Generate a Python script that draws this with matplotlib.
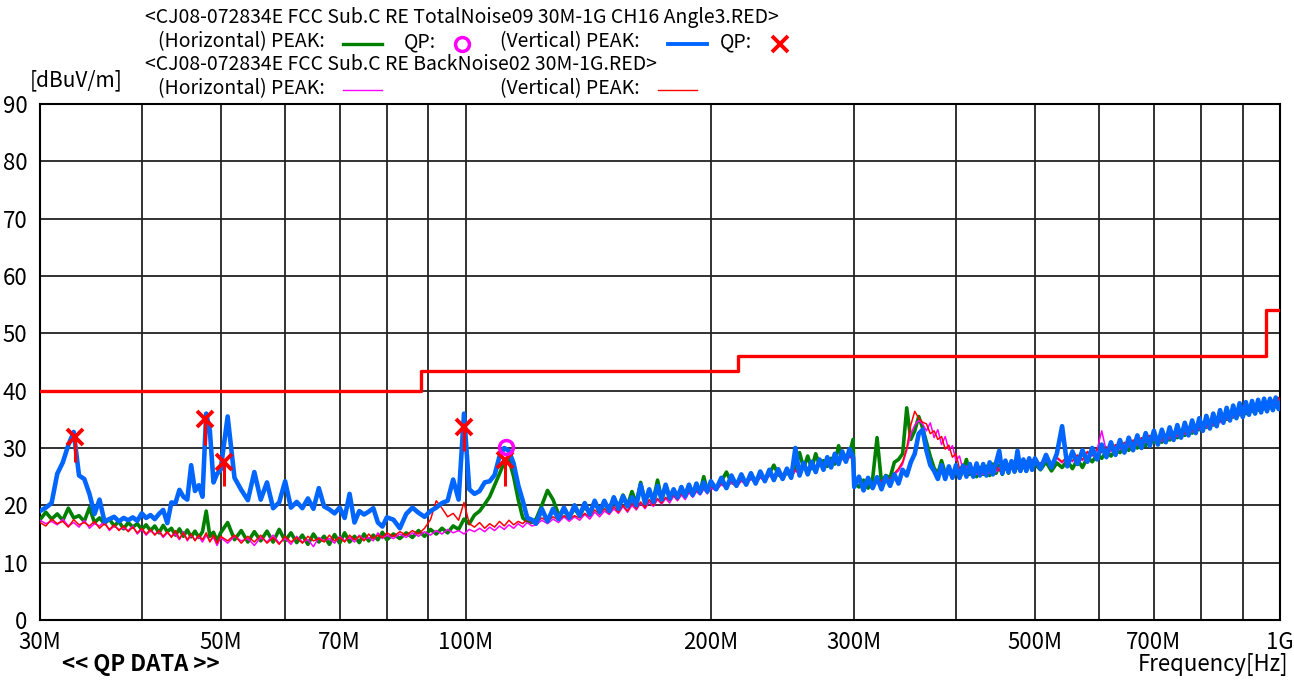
import matplotlib
matplotlib.use('Agg')
import matplotlib.pyplot as plt
from matplotlib.lines import Line2D
from matplotlib.ticker import FixedLocator, NullLocator

# sweep frequencies [MHz]
freq_mhz = [
    # 30-50
    30, 30.5, 31, 31.5, 32, 32.5, 33, 33.5, 34, 34.5,
    35, 35.5, 36, 36.5, 37, 37.5, 38, 38.5, 39, 39.5,
    40, 40.5, 41, 41.5, 42, 42.5, 43, 43.5, 44, 44.5,
    45, 45.5, 46, 46.5, 47, 47.5, 48, 48.5, 49, 49.5,
    50,
    # 51-80
    51, 52, 53, 54, 55, 56, 57, 58, 59, 60,
    61, 62, 63, 64, 65, 66, 67, 68, 69, 70,
    71, 72, 73, 74, 75, 76, 77, 78, 79, 80,
    # 81.5-120.5
    81.5, 83, 84.5, 86, 87.5, 89, 90.5, 92, 93.5, 95,
    96.5, 98, 99.5, 101, 102.5, 104, 105.5, 107, 108.5, 110,
    111.5, 113, 114.5, 116, 117.5, 119, 120.5,
    # 122-200
    122, 124, 126, 128, 130, 132, 134, 136, 138, 140,
    142, 144, 146, 148, 150, 152, 154, 156, 158, 160,
    162, 164, 166, 168, 170, 172, 174, 176, 178, 180,
    182, 184, 186, 188, 190, 192, 194, 196, 198, 200,
    # 203-299
    203, 206, 209, 212, 215, 218, 221, 224, 227, 230,
    233, 236, 239, 242, 245, 248, 251, 254, 257, 260,
    263, 266, 269, 272, 275, 278, 281, 284, 287, 290,
    293, 296, 299,
    # 300-500
    300, 304, 308, 312, 316, 320, 324, 328, 332, 336,
    340, 344, 348, 352, 356, 360, 364, 368, 372, 376,
    380, 384, 388, 392, 396, 400, 404, 408, 412, 416,
    420, 424, 428, 432, 436, 440, 444, 448, 452, 456,
    460, 464, 468, 472, 476, 480, 484, 488, 492, 496,
    500,
    # 508-1000
    508, 516, 524, 532, 540, 548, 556, 564, 572, 580,
    588, 596, 604, 612, 620, 628, 636, 644, 652, 660,
    668, 676, 684, 692, 700, 708, 716, 724, 732, 740,
    748, 756, 764, 772, 780, 788, 796, 804, 812, 820,
    828, 836, 844, 852, 860, 868, 876, 884, 892, 900,
    908, 916, 924, 932, 940, 948, 956, 964, 972, 980,
    988, 996, 1000,
]

# TotalNoise09 Horizontal PEAK [dBuV/m]
h_peak = [
    17.5, 18.8, 17.6, 18.5, 17.4, 19.5, 17.8, 18.2, 17.2, 19.6,
    17.0, 17.8, 16.8, 17.6, 16.4, 17.2, 15.9, 17.0, 16.2, 16.8,
    15.8, 16.6, 15.6, 16.4, 15.2, 16.5, 15.4, 16.0, 14.8, 15.9,
    14.6, 15.7, 14.5, 15.5, 14.4, 15.4, 19.0, 14.6, 15.3, 13.8,
    15.2,
    17.0, 14.0, 15.6, 13.6, 15.4, 13.8, 15.5, 13.6, 15.8, 13.8,
    15.2, 13.5, 14.8, 13.2, 15.0, 13.6, 14.6, 13.2, 14.9, 13.4,
    15.2, 13.6, 14.6, 13.5, 15.0, 13.8, 14.8, 14.0, 15.3, 14.0,
    15.0, 14.2, 15.2, 14.4, 15.6, 14.6, 15.8, 15.0, 16.0, 15.2,
    16.4, 15.8, 17.6, 16.8, 18.3, 19.0, 20.2, 21.5, 23.5, 25.5,
    27.5, 28.0, 25.0, 21.0, 17.8, 17.2, 17.0,
    17.6, 20.0, 22.6, 21.0, 18.4, 19.0, 18.0, 19.4, 18.2, 19.8,
    18.6, 20.6, 19.0, 20.2, 19.2, 21.4, 19.6, 21.8, 20.0, 22.4,
    20.4, 24.0, 20.6, 22.4, 21.0, 24.4, 21.2, 23.4, 21.4, 22.2,
    21.6, 22.6, 21.8, 23.6, 22.2, 23.0, 22.4, 25.0, 22.6, 23.5,
    23.0, 24.2, 25.8, 24.0, 23.6, 24.8, 23.8, 25.0, 24.0, 25.2,
    24.4, 25.6, 27.0, 25.4, 24.8, 25.8, 25.0, 26.6, 29.2, 26.5,
    28.6, 26.4, 29.0, 27.0, 27.8, 26.8, 28.2, 27.2, 30.4, 28.2,
    28.0, 29.0, 31.5,
    24.0, 23.2, 24.4, 23.0, 24.6, 31.8, 24.0, 25.2, 24.8, 27.5,
    28.0, 29.0, 37.0, 31.5, 33.0, 35.5, 33.5, 31.0, 28.5, 26.5,
    25.5, 27.8, 25.6, 26.0, 25.0, 26.2, 24.8, 26.0, 28.0, 25.4,
    26.4, 25.0, 26.6, 25.4, 26.8, 25.2, 27.2, 25.6, 27.0, 25.4,
    27.2, 25.6, 27.4, 25.8, 27.0, 26.0, 27.2, 26.0, 27.6, 26.4,
    27.2,
    26.2, 27.6, 26.0, 27.4, 26.6, 27.8, 26.4, 28.0, 26.6, 28.4,
    27.6, 28.8, 28.2, 29.4, 28.6, 29.6, 29.2, 30.2, 29.6, 30.6,
    30.0, 31.0, 30.4, 31.4, 31.0, 31.4, 31.0, 31.8, 31.4, 32.2,
    31.8, 32.6, 32.2, 33.0, 32.6, 33.6, 33.2, 34.0, 33.6, 34.4,
    34.0, 34.8, 34.8, 35.4, 35.0, 35.8, 35.4, 36.2, 35.8, 36.4,
    36.0, 36.8, 36.4, 37.0, 36.6, 37.2, 36.8, 37.4, 37.0, 37.6,
    37.2, 37.8, 37.4,
]

# TotalNoise09 Vertical PEAK [dBuV/m]
v_peak = [
    19.0, 19.6, 20.4, 25.5, 27.5, 30.5, 32.8, 25.2, 24.6, 22.0,
    18.5, 21.0, 17.2, 17.6, 18.0, 17.2, 17.8, 17.4, 17.9, 17.3,
    18.6, 17.8, 18.3, 17.6, 18.5, 19.2, 16.9, 20.5, 20.4, 22.7,
    21.5, 21.0, 27.0, 22.5, 23.5, 21.5, 36.0, 33.0, 24.0, 25.5,
    26.2,
    35.5, 24.8, 22.7, 20.9, 25.8, 21.0, 24.0, 19.5, 20.5, 24.2,
    19.6, 20.6, 19.5, 21.2, 19.4, 23.0, 19.8, 19.3, 18.6, 19.6,
    17.8, 22.0, 17.0, 19.0, 18.4, 18.9, 19.5, 17.0, 16.3, 17.9,
    17.5, 16.0, 18.5, 19.6, 18.7, 18.0, 19.0, 19.6, 20.4, 20.8,
    24.5, 21.0, 36.0, 22.8, 22.0, 22.5, 24.0, 24.2, 25.3, 28.5,
    30.0, 29.5, 27.3, 23.5, 20.8, 17.8, 17.5,
    16.8, 19.4, 17.2, 19.4, 17.6, 19.6, 17.8, 20.0, 18.2, 20.4,
    18.4, 20.8, 18.8, 20.8, 19.0, 21.4, 19.4, 21.6, 19.8, 21.4,
    20.0, 23.6, 20.4, 22.8, 20.6, 23.4, 21.0, 23.6, 21.2, 22.8,
    21.4, 23.2, 21.6, 23.6, 21.8, 23.8, 22.2, 24.0, 22.4, 24.2,
    22.8, 24.8, 23.0, 25.2, 23.4, 25.4, 23.6, 25.6, 23.8, 25.9,
    24.2, 26.2, 24.4, 26.3, 24.6, 26.4, 24.8, 30.0, 25.2, 27.4,
    25.4, 27.6, 25.8, 28.0, 26.2, 28.4, 26.6, 29.0, 27.2, 29.4,
    27.6, 29.8, 28.4,
    23.2, 25.0, 22.6, 24.8, 23.0, 24.9, 22.8, 25.0, 23.4, 25.4,
    23.8, 26.2, 25.2, 27.5, 29.0, 32.5, 33.2, 29.5, 27.0, 26.0,
    24.6, 27.0, 24.6, 26.8, 24.8, 27.0, 24.8, 26.9, 25.0, 27.2,
    25.0, 27.3, 25.2, 27.2, 25.2, 27.5, 25.4, 27.4, 29.5, 25.6,
    27.8, 25.8, 27.7, 25.9, 29.5, 26.0, 28.0, 26.0, 28.2, 26.2,
    28.2,
    26.4, 28.8, 26.6, 29.0, 33.8, 26.8, 29.4, 27.2, 29.6, 27.6,
    30.0, 28.0, 30.6, 28.4, 31.0, 28.8, 31.4, 29.2, 31.8, 29.6,
    32.2, 30.0, 32.6, 30.4, 33.0, 30.6, 33.2, 31.0, 33.6, 31.4,
    34.0, 31.8, 34.4, 32.2, 34.8, 32.6, 35.2, 33.0, 35.6, 33.4,
    36.0, 33.8, 36.6, 34.4, 37.0, 34.8, 37.4, 35.2, 37.8, 35.4,
    38.0, 35.8, 38.2, 36.0, 38.4, 36.2, 38.6, 36.4, 38.6, 36.6,
    38.8, 36.8, 37.8,
]

# BackNoise02 Horizontal PEAK [dBuV/m]
h_back = [
    17.4, 16.8, 17.2, 16.6, 17.6, 16.4, 17.0, 16.2, 17.4, 16.0,
    16.8, 16.4, 17.2, 15.6, 16.4, 15.8, 16.0, 15.6, 16.4, 15.0,
    15.8, 14.8, 15.6, 15.0, 15.4, 14.4, 15.2, 14.6, 15.0, 14.0,
    15.4, 13.8, 14.8, 14.0, 14.6, 13.6, 14.8, 13.8, 14.4, 13.0,
    14.4,
    13.4, 14.6, 13.8, 14.2, 13.0, 14.4, 13.6, 14.8, 13.4, 14.2,
    13.2, 14.6, 13.6, 14.0, 12.8, 14.4, 13.8, 14.2, 13.4, 14.6,
    13.8, 14.4, 13.6, 14.8, 14.0, 14.4, 13.8, 15.2, 14.2, 14.8,
    14.2, 15.0, 14.4, 15.2, 14.6, 15.4, 14.8, 15.6, 15.0, 15.8,
    15.2, 15.6, 15.0, 15.8, 15.4, 16.0, 15.4, 16.2, 15.6, 16.4,
    15.8, 16.6, 16.0, 16.8, 16.2, 17.0, 16.4,
    16.6, 17.4, 16.8, 17.6, 17.0, 18.0, 17.2, 18.0, 17.4, 18.4,
    17.6, 18.8, 18.0, 19.0, 18.4, 19.4, 18.6, 19.8, 18.8, 20.0,
    19.2, 20.4, 19.4, 20.6, 19.8, 21.0, 20.2, 21.2, 20.4, 21.6,
    20.8, 21.8, 21.0, 22.2, 21.4, 22.4, 21.8, 22.8, 22.0, 23.0,
    22.6, 23.6, 23.0, 24.0, 23.2, 24.2, 23.6, 24.6, 23.8, 24.8,
    24.2, 25.2, 24.4, 25.4, 24.8, 25.8, 25.0, 26.0, 25.4, 26.4,
    25.8, 26.8, 26.0, 27.0, 26.4, 27.4, 26.8, 27.8, 27.2, 28.2,
    27.6, 28.4, 28.0,
    23.6, 24.2, 23.4, 24.4, 23.6, 24.6, 24.0, 24.8, 24.4, 25.4,
    26.0, 27.2, 29.6, 32.4, 34.0, 34.8, 34.2, 33.0, 34.4, 31.8,
    33.2, 30.6, 32.0, 29.6, 30.4, 27.8, 28.6, 26.2, 26.8, 25.6,
    26.2, 25.4, 26.0, 25.4, 26.2, 25.6, 26.4, 25.8, 26.6, 26.0,
    26.8, 26.2, 27.0, 26.4, 27.2, 26.6, 27.4, 26.8, 27.6, 27.0,
    27.8,
    27.2, 27.8, 27.0, 28.2, 27.4, 28.4, 27.6, 28.6, 27.8, 29.2,
    28.6, 29.6, 33.0, 29.4, 29.4, 30.4, 29.8, 30.8, 30.2, 31.2,
    30.6, 31.6, 31.0, 32.0, 31.4, 31.8, 31.2, 32.2, 31.6, 32.6,
    32.0, 33.0, 32.4, 33.4, 32.8, 33.8, 33.2, 34.2, 33.6, 34.6,
    34.0, 35.0, 34.4, 35.6, 35.0, 36.0, 35.4, 36.4, 35.8, 36.8,
    36.2, 37.2, 36.6, 37.4, 37.0, 37.8, 37.2, 38.0, 37.6, 38.2,
    37.8, 38.6, 38.0,
]

# BackNoise02 Vertical PEAK [dBuV/m]
v_back = [
    17.0, 16.4, 17.6, 16.8, 17.2, 16.2, 17.5, 16.6, 17.0, 16.4,
    17.2, 16.0, 16.8, 15.8, 16.6, 15.6, 16.4, 15.4, 16.2, 15.2,
    16.0, 15.0, 15.8, 14.8, 15.6, 14.6, 15.4, 14.4, 15.6, 14.2,
    15.2, 14.0, 15.0, 13.8, 14.8, 14.0, 15.2, 13.6, 14.8, 13.4,
    14.6,
    13.8, 14.8, 13.4, 14.6, 13.6, 14.8, 13.4, 14.4, 13.2, 14.6,
    13.6, 14.4, 13.4, 14.6, 13.8, 14.2, 13.6, 14.8, 13.8, 14.4,
    13.6, 14.8, 14.0, 14.6, 13.8, 15.0, 14.2, 14.8, 14.4, 15.2,
    14.6, 15.4, 14.8, 15.6, 15.0, 16.0, 17.5, 20.8, 19.5, 18.0,
    18.6, 17.4, 20.5, 16.8, 16.2, 17.0, 16.0, 16.8, 16.2, 17.2,
    16.4, 17.4, 16.6, 17.2, 16.8, 17.6, 17.0,
    17.0, 17.8, 17.2, 18.0, 17.4, 18.2, 17.6, 18.2, 17.8, 18.6,
    18.0, 19.2, 18.4, 19.4, 18.6, 19.8, 18.8, 20.0, 19.0, 20.4,
    19.4, 20.6, 19.6, 21.0, 20.0, 21.2, 20.4, 21.4, 20.8, 21.8,
    21.0, 22.0, 21.4, 22.4, 21.8, 22.6, 22.0, 23.0, 22.4, 23.2,
    22.8, 23.8, 23.2, 24.2, 23.4, 24.4, 23.8, 24.8, 24.0, 25.0,
    24.4, 25.4, 24.6, 25.6, 25.0, 26.0, 25.2, 26.2, 25.6, 26.6,
    26.0, 27.0, 26.2, 27.2, 26.6, 27.6, 27.0, 28.0, 27.4, 28.4,
    27.8, 28.6, 28.2,
    23.8, 24.4, 23.6, 24.6, 23.8, 24.8, 24.2, 25.0, 24.6, 25.6,
    26.4, 27.6, 30.0, 34.0, 36.4, 35.2, 34.5, 34.2, 32.5, 33.0,
    31.5, 32.0, 29.8, 30.5, 28.4, 29.0, 26.4, 27.2, 25.8, 26.4,
    25.4, 26.2, 25.6, 26.4, 25.6, 26.6, 25.8, 26.8, 26.0, 27.0,
    26.2, 27.2, 26.4, 27.4, 26.6, 27.6, 26.8, 27.8, 27.0, 28.0,
    27.4,
    27.4, 28.0, 27.2, 28.4, 27.6, 28.6, 27.8, 28.8, 28.0, 29.4,
    28.8, 29.8, 29.2, 30.2, 29.6, 30.6, 30.0, 31.0, 30.4, 31.4,
    30.8, 31.8, 31.2, 32.2, 31.6, 32.0, 31.4, 32.4, 31.8, 32.8,
    32.2, 33.2, 32.6, 33.6, 33.0, 34.0, 33.4, 34.4, 33.8, 34.8,
    34.2, 35.2, 34.6, 35.8, 35.2, 36.2, 35.6, 36.6, 36.0, 37.0,
    36.4, 37.4, 36.8, 37.6, 37.2, 38.0, 37.4, 38.2, 37.8, 38.4,
    38.0, 38.8, 38.2,
]

# FCC limit (steps)
limit_edges = [30, 88, 216, 960, 1000]
limit_level = [40, 43.5, 46, 54, 54]

# QP data
qp_v_freq = [33.1, 47.9, 50.5, 99.6, 111.8]
qp_v_level = [31.9, 35.0, 27.6, 33.7, 27.9]
qp_v_bottom = [27.6, 30.5, 23.3, 29.5, 23.4]
qp_h_freq = [112.2]
qp_h_level = [30.1]

grid_freqs = [30, 40, 50, 60, 70, 80, 90, 100, 200, 300, 400, 500, 600, 700, 800, 900, 1000]
tick_names = {30: '30M', 50: '50M', 70: '70M', 100: '100M', 200: '200M',
              300: '300M', 500: '500M', 700: '700M', 1000: '1G'}

for s in (h_peak, v_peak, h_back, v_back):
    assert len(s) == len(freq_mhz)

plt.rcParams['font.family'] = ['Noto Sans CJK JP', 'DejaVu Sans']

W, H = 1294, 686
fig = plt.figure(figsize=(W / 100, H / 100), dpi=100)
ax = fig.add_axes([40 / W, (H - 620) / H, 1240 / W, 516 / H])


def fpos(x, y):
    return x / W, 1 - y / H


GREEN = '#008000'
BLUE = '#0066ff'
RED = '#ff0000'
MAGENTA = '#ff00ff'

ax.plot(freq_mhz, h_peak, color=GREEN, lw=2.6, zorder=3)
ax.plot(freq_mhz, h_back, color=MAGENTA, lw=1.1, zorder=3)
ax.plot(freq_mhz, v_back, color=RED, lw=1.1, zorder=3)
ax.plot(freq_mhz, v_peak, color=BLUE, lw=3.3, zorder=4)
ax.step(limit_edges, limit_level, where='post', color=RED, lw=2.4, zorder=4)

ax.vlines(qp_v_freq, qp_v_bottom, qp_v_level, color=RED, lw=2.2, zorder=5)
ax.plot(qp_v_freq, qp_v_level, 'x', color=RED, ms=12, mew=2.8, zorder=6)
ax.plot(qp_h_freq, qp_h_level, 'o', mfc='none', mec=MAGENTA, ms=10, mew=2.5, zorder=6)

ax.set_xscale('log')
ax.set_xlim(30, 1000)
ax.set_ylim(0, 90)
ax.xaxis.set_major_locator(FixedLocator(grid_freqs))
ax.xaxis.set_minor_locator(NullLocator())
ax.set_xticklabels([tick_names.get(f, '') for f in grid_freqs])
ax.set_yticks(range(0, 91, 10))
ax.tick_params(axis='both', length=0, labelsize=16)
ax.tick_params(axis='x', pad=8)
ax.tick_params(axis='y', pad=9)
ax.grid(True, color='#222222', lw=1.3)
ax.set_axisbelow(True)
for sp in ax.spines.values():
    sp.set_linewidth(1.5)
    sp.set_color('black')

# header / legend
hs = 14
fig.text(*fpos(145, 18), '<CJ08-072834E FCC Sub.C RE TotalNoise09 30M-1G CH16 Angle3.RED>',
         fontsize=hs, va='center', ha='left')
fig.text(*fpos(158, 42), '(Horizontal) PEAK:', fontsize=hs, va='center', ha='left')
fig.text(*fpos(404, 42), 'QP:', fontsize=hs, va='center', ha='left')
fig.text(*fpos(500, 42), '(Vertical) PEAK:', fontsize=hs, va='center', ha='left')
fig.text(*fpos(720, 42), 'QP:', fontsize=hs, va='center', ha='left')
fig.text(*fpos(145, 65), '<CJ08-072834E FCC Sub.C RE BackNoise02 30M-1G.RED>',
         fontsize=hs, va='center', ha='left')
fig.text(*fpos(158, 89), '(Horizontal) PEAK:', fontsize=hs, va='center', ha='left')
fig.text(*fpos(500, 89), '(Vertical) PEAK:', fontsize=hs, va='center', ha='left')

fig.add_artist(Line2D([343 / W, 382 / W], [1 - 44 / H] * 2, color=GREEN, lw=2.4))
fig.add_artist(Line2D([668 / W, 707 / W], [1 - 44 / H] * 2, color=BLUE, lw=2.8))
fig.add_artist(Line2D([343 / W, 382 / W], [1 - 90 / H] * 2, color=MAGENTA, lw=1.0))
fig.add_artist(Line2D([658 / W, 697 / W], [1 - 90 / H] * 2, color=RED, lw=1.0))
fig.add_artist(Line2D([462 / W], [1 - 44 / H], marker='o', mfc='none', mec=MAGENTA, ms=10, mew=2.5))
fig.add_artist(Line2D([780 / W], [1 - 44 / H], marker='x', color=RED, ms=11, mew=2.8))

fig.text(*fpos(30, 80), '[dBuV/m]', fontsize=15, va='center', ha='left')
fig.text(*fpos(62, 665), '<< QP DATA >>', fontsize=16, fontweight='bold', va='center', ha='left')
fig.text(*fpos(1288, 665), 'Frequency[Hz]', fontsize=16, va='center', ha='right')

fig.savefig('out.png', dpi=100, facecolor='white')
